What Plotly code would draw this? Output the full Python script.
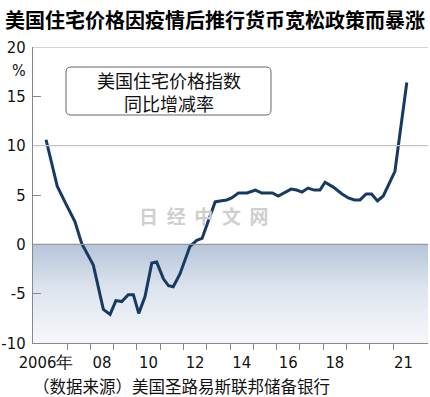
import plotly.graph_objects as go

# ---- data ----
years = [2006.10, 2006.58, 2006.91, 2007.34, 2007.63, 2008.13, 2008.56, 2008.85,
         2009.10, 2009.35, 2009.63, 2009.85, 2010.08, 2010.35, 2010.64, 2010.85,
         2011.14, 2011.36, 2011.56, 2011.85, 2012.28, 2012.57, 2012.80, 2013.14,
         2013.36, 2013.57, 2013.86, 2014.07, 2014.36, 2014.73, 2015.09, 2015.36,
         2015.82, 2016.07, 2016.36, 2016.62, 2016.86, 2017.09, 2017.35, 2017.61,
         2017.86, 2018.08, 2018.43, 2018.81, 2019.08, 2019.34, 2019.58, 2019.85,
         2020.08, 2020.33, 2020.58, 2021.08, 2021.59]
yoy = [10.6, 5.9, 4.3, 2.3, 0.1, -2.1, -6.6, -7.1,
       -5.7, -5.8, -5.1, -5.1, -7.0, -5.3, -1.9, -1.8,
       -3.5, -4.2, -4.3, -3.0, -0.2, 0.4, 0.6, 2.8,
       4.3, 4.4, 4.5, 4.7, 5.2, 5.2, 5.5, 5.2,
       5.2, 4.9, 5.3, 5.6, 5.5, 5.3, 5.7, 5.5,
       5.5, 6.3, 5.8, 5.1, 4.7, 4.5, 4.5, 5.1,
       5.1, 4.4, 4.9, 7.4, 16.4]

x_label_vals = [2006.1, 2008.5, 2010.5, 2012.5, 2014.5, 2016.5, 2018.5, 2021.45]
x_label_text = ["2006年", "08", "10", "12", "14", "16", "18", "21"]
year_ticks = list(range(2007, 2022))
y_ticks = [-10, -5, 0, 5, 10, 15, 20]
y_tick_text = ["-10", "-5", "0", "5", "10", "15", "20"]

x_range = [2005.54, 2022.5]
y_range = [-10, 20]

title = "美国住宅价格因疫情后推行货币宽松政策而暴涨"
box_text = "美国住宅价格指数<br>同比增减率"
source = "（数据来源）美国圣路易斯联邦储备银行"

W, H = 430, 397
ML, MR, MT, MB = 33, 2, 47, 54
PW, PH = W - ML - MR, H - MT - MB

def px2paper(px, py):
    return (px - ML) / PW, (H - MB - py) / PH

CJK = "Noto Sans CJK SC"
NUM = "DejaVu Sans Condensed, Liberation Sans Narrow, Liberation Sans, Arial"

fig = go.Figure()

# negative zone with gradient
fig.add_trace(go.Scatter(
    x=[x_range[0], x_range[1], x_range[1], x_range[0]],
    y=[0, 0, y_range[0], y_range[0]],
    fill="toself", mode="none",
    fillgradient=dict(type="vertical",
                      colorscale=[[0, "#f7f8fb"], [0.55, "#dde4ee"], [1, "#b6c5da"]]),
    hoverinfo="skip", showlegend=False))

fig.add_trace(go.Scatter(x=years, y=yoy, mode="lines",
                         line=dict(color="#173a63", width=3),
                         showlegend=False))

shapes = []
for yv, col in [(20, "#aaaaaa"), (10, "#c4c4c4"), (0, "#999999")]:
    shapes.append(dict(type="line", xref="paper", yref="y", x0=0, x1=1, y0=yv, y1=yv,
                       line=dict(color=col, width=1.2), layer="above"))

# rounded box for the label
bx0, by0, bx1, by1, r = 66, 67, 271, 115, 5
def P(px, py):
    a, b = px2paper(px, py)
    return f"{a:.5f},{b:.5f}"
path = (f"M {P(bx0 + r, by0)} L {P(bx1 - r, by0)} Q {P(bx1, by0)} {P(bx1, by0 + r)} "
        f"L {P(bx1, by1 - r)} Q {P(bx1, by1)} {P(bx1 - r, by1)} "
        f"L {P(bx0 + r, by1)} Q {P(bx0, by1)} {P(bx0, by1 - r)} "
        f"L {P(bx0, by0 + r)} Q {P(bx0, by0)} {P(bx0 + r, by0)} Z")
shapes.append(dict(type="path", xref="paper", yref="paper", path=path,
                   line=dict(color="#666666", width=1), fillcolor="white"))

ann = []
cx, cy = px2paper((bx0 + bx1) / 2, (by0 + by1) / 2)
ann.append(dict(text=box_text, xref="paper", yref="paper", x=cx, y=cy,
                showarrow=False, font=dict(family=CJK, size=18, color="#111111"),
                align="center", xanchor="center", yanchor="middle"))
px_, py_ = px2paper(19, 70)
ann.append(dict(text="%", xref="paper", yref="paper", x=px_, y=py_, showarrow=False,
                font=dict(family=NUM, size=16, color="#111111"),
                xanchor="center", yanchor="middle"))
sx, sy = px2paper(181, 386)
ann.append(dict(text=source, xref="paper", yref="paper", x=sx, y=sy, showarrow=False,
                font=dict(family=CJK, size=16.5, color="#111111"),
                xanchor="center", yanchor="middle"))
wx, wy = px2paper(204, 215)
ann.append(dict(text="日  经  中  文  网", xref="paper", yref="paper", x=wx, y=wy,
                showarrow=False, font=dict(family=CJK, size=19, color="#cfcfcf", weight="bold"),
                xanchor="center", yanchor="middle"))

fig.update_layout(
    width=W, height=H, margin=dict(l=ML, r=MR, t=MT, b=MB, autoexpand=False),
    paper_bgcolor="white", plot_bgcolor="white",
    title=dict(text=title, x=0.5, xanchor="center", y=1 - 21 / H, yanchor="middle",
               font=dict(family=CJK, size=20, color="#000000", weight="bold")),
    shapes=shapes, annotations=ann,
    xaxis=dict(range=x_range, tickmode="array", tickvals=x_label_vals, ticktext=x_label_text,
               ticks="", showgrid=False, zeroline=False, showline=True, automargin=False,
               linecolor="#888888", linewidth=1.2, ticklabelstandoff=4,
               tickfont=dict(family=NUM, size=16.5, color="#111111"),
               minor=dict(tickmode="array", tickvals=year_ticks, ticks="outside",
                          ticklen=6, tickcolor="#888888", tickwidth=1.2, showgrid=False)),
    yaxis=dict(range=y_range, tickmode="array", tickvals=y_ticks, ticktext=y_tick_text,
               automargin=False,
               ticks="inside", ticklen=8, tickcolor="#888888", tickwidth=1.2,
               showgrid=False, zeroline=False, showline=True,
               linecolor="#888888", linewidth=1.2, ticklabelstandoff=3,
               tickfont=dict(family=NUM, size=16.5, color="#111111")),
)

fig.write_html("out.html", config={"displayModeBar": False},
               post_script="document.body.style.margin='0px';document.body.style.overflow='hidden';")
